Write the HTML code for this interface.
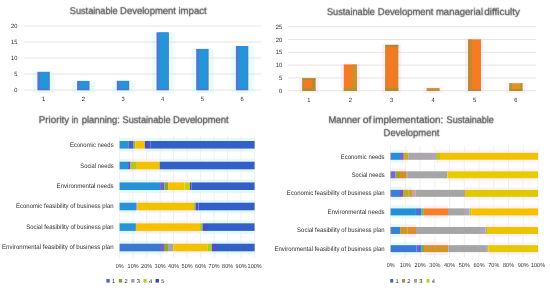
<!DOCTYPE html>
<html><head><meta charset="utf-8"><style>
html,body{margin:0;padding:0;background:#fff;}
body{width:550px;height:288px;overflow:hidden;}
svg{display:block;font-family:"Liberation Sans", sans-serif;}
</style></head><body>
<svg width="550" height="288" viewBox="0 0 550 288" xmlns="http://www.w3.org/2000/svg">
<defs><filter id="b" x="0" y="0" width="100%" height="100%"><feGaussianBlur stdDeviation="0.35"/></filter>
<filter id="s" x="-5%" y="-20%" width="110%" height="140%"><feConvolveMatrix order="3" kernelMatrix="1 2 1 2 24 2 1 2 1" preserveAlpha="false"/></filter>
<filter id="s2" x="-5%" y="-20%" width="110%" height="140%"><feConvolveMatrix order="3" kernelMatrix="0 0 0 0 1 0 0 0 0" preserveAlpha="false"/></filter></defs>
<rect width="550" height="288" fill="#fff"/>
<g filter="url(#b)">
<rect width="550" height="288" fill="#fff"/>
<rect x="32.90" y="71.80" width="22.40" height="21.50" fill="#eafcfc" />
<rect x="72.60" y="80.90" width="22.40" height="12.40" fill="#eafcfc" />
<rect x="112.30" y="80.80" width="22.40" height="12.50" fill="#eafcfc" />
<rect x="152.00" y="32.30" width="22.40" height="61.00" fill="#eafcfc" />
<rect x="191.70" y="48.90" width="22.40" height="44.40" fill="#eafcfc" />
<rect x="231.40" y="46.00" width="22.40" height="47.30" fill="#eafcfc" />
<line x1="23.60" y1="90.00" x2="261.00" y2="90.00" stroke="#dcdcdc" stroke-width="0.75"/>
<line x1="23.60" y1="74.00" x2="261.00" y2="74.00" stroke="#dcdcdc" stroke-width="0.75"/>
<line x1="23.60" y1="58.00" x2="261.00" y2="58.00" stroke="#dcdcdc" stroke-width="0.75"/>
<line x1="23.60" y1="42.00" x2="261.00" y2="42.00" stroke="#dcdcdc" stroke-width="0.75"/>
<line x1="23.60" y1="26.00" x2="261.00" y2="26.00" stroke="#dcdcdc" stroke-width="0.75"/>
<rect x="37.40" y="71.80" width="12.40" height="18.50" fill="#5474d2" />
<rect x="40.00" y="72.10" width="8.80" height="16.50" fill="#2296d8" />
<rect x="77.10" y="80.90" width="12.40" height="9.40" fill="#5474d2" />
<rect x="79.70" y="81.20" width="8.80" height="7.40" fill="#2296d8" />
<rect x="116.80" y="80.80" width="12.40" height="9.50" fill="#5474d2" />
<rect x="119.40" y="81.10" width="8.80" height="7.50" fill="#2296d8" />
<rect x="156.50" y="32.30" width="12.40" height="58.00" fill="#5474d2" />
<rect x="159.10" y="32.60" width="8.80" height="56.00" fill="#2296d8" />
<rect x="196.20" y="48.90" width="12.40" height="41.40" fill="#5474d2" />
<rect x="198.80" y="49.20" width="8.80" height="39.40" fill="#2296d8" />
<rect x="235.90" y="46.00" width="12.40" height="44.30" fill="#5474d2" />
<rect x="238.50" y="46.30" width="8.80" height="42.30" fill="#2296d8" />
<rect x="299.30" y="77.30" width="19.20" height="15.90" fill="#fdf0fa" />
<rect x="340.70" y="63.70" width="19.20" height="29.50" fill="#fdf0fa" />
<rect x="382.10" y="43.90" width="19.20" height="49.30" fill="#fdf0fa" />
<rect x="423.50" y="87.10" width="19.20" height="6.10" fill="#fdf0fa" />
<rect x="464.90" y="38.60" width="19.20" height="54.60" fill="#fdf0fa" />
<rect x="506.30" y="82.40" width="19.20" height="10.80" fill="#fdf0fa" />
<line x1="288.00" y1="90.70" x2="536.00" y2="90.70" stroke="#dcdcdc" stroke-width="0.75"/>
<line x1="288.00" y1="77.90" x2="536.00" y2="77.90" stroke="#dcdcdc" stroke-width="0.75"/>
<line x1="288.00" y1="65.10" x2="536.00" y2="65.10" stroke="#dcdcdc" stroke-width="0.75"/>
<line x1="288.00" y1="52.30" x2="536.00" y2="52.30" stroke="#dcdcdc" stroke-width="0.75"/>
<line x1="288.00" y1="39.50" x2="536.00" y2="39.50" stroke="#dcdcdc" stroke-width="0.75"/>
<line x1="288.00" y1="26.70" x2="536.00" y2="26.70" stroke="#dcdcdc" stroke-width="0.75"/>
<rect x="302.40" y="78.30" width="13.00" height="12.70" fill="#f47a20" />
<rect x="302.40" y="78.30" width="1.20" height="12.70" fill="#a89030" />
<rect x="312.40" y="78.30" width="3.00" height="12.70" fill="#a89030" />
<rect x="302.40" y="78.30" width="13.00" height="1.50" fill="#a89030" />
<rect x="302.40" y="88.70" width="13.00" height="2.30" fill="#a89030" />
<rect x="343.80" y="64.70" width="13.00" height="26.30" fill="#f57c20" />
<rect x="351.80" y="64.70" width="5.00" height="26.30" fill="#d09028" />
<rect x="343.80" y="64.70" width="13.00" height="0.60" fill="#f06a30" />
<rect x="343.80" y="88.30" width="13.00" height="2.70" fill="#a89a2c" />
<rect x="385.20" y="44.90" width="13.00" height="46.10" fill="#f27a20" />
<rect x="385.20" y="44.90" width="0.50" height="46.10" fill="#a89030" />
<rect x="396.70" y="44.90" width="1.50" height="46.10" fill="#d08a2c" />
<rect x="385.20" y="44.90" width="13.00" height="2.00" fill="#a89030" />
<rect x="385.20" y="88.00" width="13.00" height="3.00" fill="#a89030" />
<rect x="426.60" y="88.10" width="13.00" height="2.90" fill="#c8902c" />
<rect x="468.00" y="39.60" width="13.00" height="51.40" fill="#f87a20" />
<rect x="468.00" y="39.60" width="4.00" height="51.40" fill="#c08a30" />
<rect x="480.50" y="39.60" width="0.50" height="51.40" fill="#d08a2c" />
<rect x="468.00" y="39.60" width="13.00" height="0.30" fill="#f06a30" />
<rect x="468.00" y="89.40" width="13.00" height="1.60" fill="#a89030" />
<rect x="509.40" y="83.40" width="13.00" height="7.60" fill="#e89020" />
<rect x="509.40" y="83.40" width="2.50" height="7.60" fill="#98a030" />
<rect x="520.40" y="83.40" width="2.00" height="7.60" fill="#98a030" />
<rect x="509.40" y="83.40" width="13.00" height="0.30" fill="#a89030" />
<rect x="509.40" y="89.00" width="13.00" height="2.00" fill="#b09028" />
<rect x="119.60" y="138.00" width="9.20" height="3.00" fill="#e4fafa" />
<rect x="119.60" y="148.60" width="9.20" height="3.00" fill="#e4fafa" />
<rect x="128.80" y="138.00" width="4.80" height="3.00" fill="#e4fafa" />
<rect x="128.80" y="148.60" width="4.80" height="3.00" fill="#e4fafa" />
<rect x="133.60" y="138.00" width="1.80" height="3.00" fill="#fdeef8" />
<rect x="133.60" y="148.60" width="1.80" height="3.00" fill="#fdeef8" />
<rect x="135.40" y="138.00" width="9.40" height="3.00" fill="#fff3f8" />
<rect x="135.40" y="148.60" width="9.40" height="3.00" fill="#fff3f8" />
<rect x="144.80" y="138.00" width="5.80" height="3.00" fill="#e4fafa" />
<rect x="144.80" y="148.60" width="5.80" height="3.00" fill="#e4fafa" />
<rect x="150.60" y="138.00" width="104.00" height="3.00" fill="#e4fafa" />
<rect x="150.60" y="148.60" width="104.00" height="3.00" fill="#e4fafa" />
<rect x="119.60" y="158.70" width="8.50" height="3.00" fill="#e4fafa" />
<rect x="119.60" y="169.30" width="8.50" height="3.00" fill="#e4fafa" />
<rect x="128.10" y="158.70" width="2.40" height="3.00" fill="#e4fafa" />
<rect x="128.10" y="169.30" width="2.40" height="3.00" fill="#e4fafa" />
<rect x="130.50" y="158.70" width="5.50" height="3.00" fill="#fdeef8" />
<rect x="130.50" y="169.30" width="5.50" height="3.00" fill="#fdeef8" />
<rect x="136.00" y="158.70" width="23.70" height="3.00" fill="#fff3f8" />
<rect x="136.00" y="169.30" width="23.70" height="3.00" fill="#fff3f8" />
<rect x="159.70" y="158.70" width="94.90" height="3.00" fill="#e4fafa" />
<rect x="159.70" y="169.30" width="94.90" height="3.00" fill="#e4fafa" />
<rect x="119.60" y="179.40" width="40.50" height="3.00" fill="#e4fafa" />
<rect x="119.60" y="190.00" width="40.50" height="3.00" fill="#e4fafa" />
<rect x="160.10" y="179.40" width="4.40" height="3.00" fill="#e4fafa" />
<rect x="160.10" y="190.00" width="4.40" height="3.00" fill="#e4fafa" />
<rect x="164.50" y="179.40" width="3.60" height="3.00" fill="#fdeef8" />
<rect x="164.50" y="190.00" width="3.60" height="3.00" fill="#fdeef8" />
<rect x="168.10" y="179.40" width="16.40" height="3.00" fill="#fff3f8" />
<rect x="168.10" y="190.00" width="16.40" height="3.00" fill="#fff3f8" />
<rect x="184.50" y="179.40" width="5.40" height="3.00" fill="#fff3f8" />
<rect x="184.50" y="190.00" width="5.40" height="3.00" fill="#fff3f8" />
<rect x="189.90" y="179.40" width="1.50" height="3.00" fill="#e4fafa" />
<rect x="189.90" y="190.00" width="1.50" height="3.00" fill="#e4fafa" />
<rect x="191.40" y="179.40" width="63.20" height="3.00" fill="#e4fafa" />
<rect x="191.40" y="190.00" width="63.20" height="3.00" fill="#e4fafa" />
<rect x="119.60" y="199.70" width="16.40" height="3.00" fill="#e4fafa" />
<rect x="119.60" y="210.30" width="16.40" height="3.00" fill="#e4fafa" />
<rect x="137.60" y="199.70" width="55.60" height="3.00" fill="#fff3f8" />
<rect x="137.60" y="210.30" width="55.60" height="3.00" fill="#fff3f8" />
<rect x="193.20" y="199.70" width="2.30" height="3.00" fill="#fdeef8" />
<rect x="193.20" y="210.30" width="2.30" height="3.00" fill="#fdeef8" />
<rect x="195.50" y="199.70" width="3.00" height="3.00" fill="#e4fafa" />
<rect x="195.50" y="210.30" width="3.00" height="3.00" fill="#e4fafa" />
<rect x="198.50" y="199.70" width="56.10" height="3.00" fill="#e4fafa" />
<rect x="198.50" y="210.30" width="56.10" height="3.00" fill="#e4fafa" />
<rect x="119.60" y="220.30" width="16.30" height="3.00" fill="#e4fafa" />
<rect x="119.60" y="230.90" width="16.30" height="3.00" fill="#e4fafa" />
<rect x="135.90" y="220.30" width="64.20" height="3.00" fill="#fff3f8" />
<rect x="135.90" y="230.90" width="64.20" height="3.00" fill="#fff3f8" />
<rect x="200.10" y="220.30" width="2.40" height="3.00" fill="#fdeef8" />
<rect x="200.10" y="230.90" width="2.40" height="3.00" fill="#fdeef8" />
<rect x="202.50" y="220.30" width="5.50" height="3.00" fill="#e4fafa" />
<rect x="202.50" y="230.90" width="5.50" height="3.00" fill="#e4fafa" />
<rect x="208.00" y="220.30" width="46.60" height="3.00" fill="#e4fafa" />
<rect x="208.00" y="230.90" width="46.60" height="3.00" fill="#e4fafa" />
<rect x="119.60" y="240.70" width="40.40" height="3.00" fill="#e4fafa" />
<rect x="119.60" y="251.30" width="40.40" height="3.00" fill="#e4fafa" />
<rect x="160.00" y="240.70" width="4.00" height="3.00" fill="#e4fafa" />
<rect x="160.00" y="251.30" width="4.00" height="3.00" fill="#e4fafa" />
<rect x="164.00" y="240.70" width="4.00" height="3.00" fill="#fdeef8" />
<rect x="164.00" y="251.30" width="4.00" height="3.00" fill="#fdeef8" />
<rect x="173.50" y="240.70" width="34.30" height="3.00" fill="#fff3f8" />
<rect x="173.50" y="251.30" width="34.30" height="3.00" fill="#fff3f8" />
<rect x="207.80" y="240.70" width="4.10" height="3.00" fill="#fdeef8" />
<rect x="207.80" y="251.30" width="4.10" height="3.00" fill="#fdeef8" />
<rect x="211.90" y="240.70" width="4.10" height="3.00" fill="#e4fafa" />
<rect x="211.90" y="251.30" width="4.10" height="3.00" fill="#e4fafa" />
<rect x="216.00" y="240.70" width="38.60" height="3.00" fill="#e4fafa" />
<rect x="216.00" y="251.30" width="38.60" height="3.00" fill="#e4fafa" />
<line x1="119.60" y1="136.00" x2="119.60" y2="258.00" stroke="#ebebeb" stroke-width="0.75"/>
<line x1="133.10" y1="136.00" x2="133.10" y2="258.00" stroke="#ebebeb" stroke-width="0.75"/>
<line x1="146.60" y1="136.00" x2="146.60" y2="258.00" stroke="#ebebeb" stroke-width="0.75"/>
<line x1="160.10" y1="136.00" x2="160.10" y2="258.00" stroke="#ebebeb" stroke-width="0.75"/>
<line x1="173.60" y1="136.00" x2="173.60" y2="258.00" stroke="#ebebeb" stroke-width="0.75"/>
<line x1="187.10" y1="136.00" x2="187.10" y2="258.00" stroke="#ebebeb" stroke-width="0.75"/>
<line x1="200.60" y1="136.00" x2="200.60" y2="258.00" stroke="#ebebeb" stroke-width="0.75"/>
<line x1="214.10" y1="136.00" x2="214.10" y2="258.00" stroke="#ebebeb" stroke-width="0.75"/>
<line x1="227.60" y1="136.00" x2="227.60" y2="258.00" stroke="#ebebeb" stroke-width="0.75"/>
<line x1="241.10" y1="136.00" x2="241.10" y2="258.00" stroke="#ebebeb" stroke-width="0.75"/>
<line x1="254.60" y1="136.00" x2="254.60" y2="258.00" stroke="#ebebeb" stroke-width="0.75"/>
<rect x="119.60" y="141.00" width="9.20" height="7.60" fill="#2592d8" />
<rect x="128.80" y="141.00" width="4.80" height="7.60" fill="#4a60c8" />
<rect x="133.60" y="141.00" width="1.80" height="7.60" fill="#90b830" />
<rect x="135.40" y="141.00" width="9.40" height="7.60" fill="#f2c200" />
<rect x="144.80" y="141.00" width="5.80" height="7.60" fill="#4a50c8" />
<rect x="150.60" y="141.00" width="104.00" height="7.60" fill="#3060c8" />
<rect x="119.60" y="161.70" width="8.50" height="7.60" fill="#2592d8" />
<rect x="128.10" y="161.70" width="2.40" height="7.60" fill="#6a50c8" />
<rect x="130.50" y="161.70" width="5.50" height="7.60" fill="#a8c820" />
<rect x="136.00" y="161.70" width="23.70" height="7.60" fill="#f2c200" />
<rect x="159.70" y="161.70" width="94.90" height="7.60" fill="#3060c8" />
<rect x="119.60" y="182.40" width="40.50" height="7.60" fill="#2592d8" />
<rect x="160.10" y="182.40" width="4.40" height="7.60" fill="#7060c8" />
<rect x="164.50" y="182.40" width="3.60" height="7.60" fill="#80a830" />
<rect x="168.10" y="182.40" width="16.40" height="7.60" fill="#f2c200" />
<rect x="184.50" y="182.40" width="5.40" height="7.60" fill="#c8d010" />
<rect x="189.90" y="182.40" width="1.50" height="7.60" fill="#5a4ad0" />
<rect x="191.40" y="182.40" width="63.20" height="7.60" fill="#3060c8" />
<rect x="119.60" y="202.70" width="16.40" height="7.60" fill="#2592d8" />
<rect x="136.00" y="202.70" width="1.60" height="7.60" fill="#b0a0a8" />
<rect x="137.60" y="202.70" width="55.60" height="7.60" fill="#f2c200" />
<rect x="193.20" y="202.70" width="2.30" height="7.60" fill="#a0c820" />
<rect x="195.50" y="202.70" width="3.00" height="7.60" fill="#5a4ad0" />
<rect x="198.50" y="202.70" width="56.10" height="7.60" fill="#3060c8" />
<rect x="119.60" y="223.30" width="16.30" height="7.60" fill="#2592d8" />
<rect x="135.90" y="223.30" width="64.20" height="7.60" fill="#f8c000" />
<rect x="200.10" y="223.30" width="2.40" height="7.60" fill="#90d020" />
<rect x="202.50" y="223.30" width="5.50" height="7.60" fill="#4a50c8" />
<rect x="208.00" y="223.30" width="46.60" height="7.60" fill="#3060c8" />
<rect x="119.60" y="243.70" width="40.40" height="7.60" fill="#3a78d2" />
<rect x="160.00" y="243.70" width="4.00" height="7.60" fill="#7060c8" />
<rect x="164.00" y="243.70" width="4.00" height="7.60" fill="#80a830" />
<rect x="168.00" y="243.70" width="5.50" height="7.60" fill="#b0a0a8" />
<rect x="173.50" y="243.70" width="34.30" height="7.60" fill="#f2c200" />
<rect x="207.80" y="243.70" width="4.10" height="7.60" fill="#a0d020" />
<rect x="211.90" y="243.70" width="4.10" height="7.60" fill="#5a4ad0" />
<rect x="216.00" y="243.70" width="38.60" height="7.60" fill="#3060c8" />
<rect x="106.40" y="279.00" width="3.30" height="3.60" fill="#5060c0" />
<rect x="118.80" y="279.00" width="3.30" height="3.60" fill="#909838" />
<rect x="131.20" y="279.00" width="3.30" height="3.60" fill="#a0a0a0" />
<rect x="143.40" y="279.00" width="3.30" height="3.60" fill="#c0c830" />
<rect x="155.60" y="279.00" width="3.30" height="3.60" fill="#3048b0" />
<rect x="390.60" y="149.80" width="1.20" height="3.00" fill="#e4fafa" />
<rect x="390.60" y="159.80" width="1.20" height="3.00" fill="#e4fafa" />
<rect x="391.80" y="149.80" width="8.20" height="3.00" fill="#e4fafa" />
<rect x="391.80" y="159.80" width="8.20" height="3.00" fill="#e4fafa" />
<rect x="400.00" y="149.80" width="3.80" height="3.00" fill="#e4fafa" />
<rect x="400.00" y="159.80" width="3.80" height="3.00" fill="#e4fafa" />
<rect x="403.80" y="149.80" width="4.40" height="3.00" fill="#fff3f8" />
<rect x="403.80" y="159.80" width="4.40" height="3.00" fill="#fff3f8" />
<rect x="436.00" y="149.80" width="4.00" height="3.00" fill="#fff3f8" />
<rect x="436.00" y="159.80" width="4.00" height="3.00" fill="#fff3f8" />
<rect x="440.00" y="149.80" width="98.00" height="3.00" fill="#fff3f8" />
<rect x="440.00" y="159.80" width="98.00" height="3.00" fill="#fff3f8" />
<rect x="390.60" y="168.30" width="1.20" height="3.00" fill="#e4fafa" />
<rect x="390.60" y="178.30" width="1.20" height="3.00" fill="#e4fafa" />
<rect x="391.80" y="168.30" width="3.80" height="3.00" fill="#e4fafa" />
<rect x="391.80" y="178.30" width="3.80" height="3.00" fill="#e4fafa" />
<rect x="395.60" y="168.30" width="4.40" height="3.00" fill="#fdeef8" />
<rect x="395.60" y="178.30" width="4.40" height="3.00" fill="#fdeef8" />
<rect x="400.00" y="168.30" width="6.00" height="3.00" fill="#fdeef8" />
<rect x="400.00" y="178.30" width="6.00" height="3.00" fill="#fdeef8" />
<rect x="447.50" y="168.30" width="90.50" height="3.00" fill="#fff3f8" />
<rect x="447.50" y="178.30" width="90.50" height="3.00" fill="#fff3f8" />
<rect x="390.60" y="186.85" width="1.20" height="3.00" fill="#e4fafa" />
<rect x="390.60" y="196.85" width="1.20" height="3.00" fill="#e4fafa" />
<rect x="391.80" y="186.85" width="8.20" height="3.00" fill="#e4fafa" />
<rect x="391.80" y="196.85" width="8.20" height="3.00" fill="#e4fafa" />
<rect x="400.00" y="186.85" width="3.00" height="3.00" fill="#e4fafa" />
<rect x="400.00" y="196.85" width="3.00" height="3.00" fill="#e4fafa" />
<rect x="403.00" y="186.85" width="5.20" height="3.00" fill="#fdeef8" />
<rect x="403.00" y="196.85" width="5.20" height="3.00" fill="#fdeef8" />
<rect x="408.20" y="186.85" width="3.80" height="3.00" fill="#fdeef8" />
<rect x="408.20" y="196.85" width="3.80" height="3.00" fill="#fdeef8" />
<rect x="465.00" y="186.85" width="73.00" height="3.00" fill="#fff3f8" />
<rect x="465.00" y="196.85" width="73.00" height="3.00" fill="#fff3f8" />
<rect x="390.60" y="205.40" width="25.30" height="3.00" fill="#e4fafa" />
<rect x="390.60" y="215.40" width="25.30" height="3.00" fill="#e4fafa" />
<rect x="415.90" y="205.40" width="5.70" height="3.00" fill="#e4fafa" />
<rect x="415.90" y="215.40" width="5.70" height="3.00" fill="#e4fafa" />
<rect x="423.80" y="205.40" width="24.20" height="3.00" fill="#fdeef8" />
<rect x="423.80" y="215.40" width="24.20" height="3.00" fill="#fdeef8" />
<rect x="469.50" y="205.40" width="2.10" height="3.00" fill="#fdeef8" />
<rect x="469.50" y="215.40" width="2.10" height="3.00" fill="#fdeef8" />
<rect x="471.60" y="205.40" width="66.40" height="3.00" fill="#fff3f8" />
<rect x="471.60" y="215.40" width="66.40" height="3.00" fill="#fff3f8" />
<rect x="390.60" y="223.95" width="1.20" height="3.00" fill="#e4fafa" />
<rect x="390.60" y="233.95" width="1.20" height="3.00" fill="#e4fafa" />
<rect x="391.80" y="223.95" width="8.30" height="3.00" fill="#e4fafa" />
<rect x="391.80" y="233.95" width="8.30" height="3.00" fill="#e4fafa" />
<rect x="400.10" y="223.95" width="7.60" height="3.00" fill="#fdeef8" />
<rect x="400.10" y="233.95" width="7.60" height="3.00" fill="#fdeef8" />
<rect x="407.70" y="223.95" width="8.30" height="3.00" fill="#fdeef8" />
<rect x="407.70" y="233.95" width="8.30" height="3.00" fill="#fdeef8" />
<rect x="485.60" y="223.95" width="2.20" height="3.00" fill="#fdeef8" />
<rect x="485.60" y="233.95" width="2.20" height="3.00" fill="#fdeef8" />
<rect x="487.80" y="223.95" width="50.20" height="3.00" fill="#fff3f8" />
<rect x="487.80" y="233.95" width="50.20" height="3.00" fill="#fff3f8" />
<rect x="390.60" y="242.15" width="25.80" height="3.00" fill="#e4fafa" />
<rect x="390.60" y="252.15" width="25.80" height="3.00" fill="#e4fafa" />
<rect x="416.40" y="242.15" width="5.30" height="3.00" fill="#e4fafa" />
<rect x="416.40" y="252.15" width="5.30" height="3.00" fill="#e4fafa" />
<rect x="424.00" y="242.15" width="24.30" height="3.00" fill="#fdeef8" />
<rect x="424.00" y="252.15" width="24.30" height="3.00" fill="#fdeef8" />
<rect x="488.30" y="242.15" width="49.70" height="3.00" fill="#fff3f8" />
<rect x="488.30" y="252.15" width="49.70" height="3.00" fill="#fff3f8" />
<line x1="390.60" y1="146.00" x2="390.60" y2="258.00" stroke="#ebebeb" stroke-width="0.75"/>
<line x1="405.34" y1="146.00" x2="405.34" y2="258.00" stroke="#ebebeb" stroke-width="0.75"/>
<line x1="420.08" y1="146.00" x2="420.08" y2="258.00" stroke="#ebebeb" stroke-width="0.75"/>
<line x1="434.82" y1="146.00" x2="434.82" y2="258.00" stroke="#ebebeb" stroke-width="0.75"/>
<line x1="449.56" y1="146.00" x2="449.56" y2="258.00" stroke="#ebebeb" stroke-width="0.75"/>
<line x1="464.30" y1="146.00" x2="464.30" y2="258.00" stroke="#ebebeb" stroke-width="0.75"/>
<line x1="479.04" y1="146.00" x2="479.04" y2="258.00" stroke="#ebebeb" stroke-width="0.75"/>
<line x1="493.78" y1="146.00" x2="493.78" y2="258.00" stroke="#ebebeb" stroke-width="0.75"/>
<line x1="508.52" y1="146.00" x2="508.52" y2="258.00" stroke="#ebebeb" stroke-width="0.75"/>
<line x1="523.26" y1="146.00" x2="523.26" y2="258.00" stroke="#ebebeb" stroke-width="0.75"/>
<line x1="538.00" y1="146.00" x2="538.00" y2="258.00" stroke="#ebebeb" stroke-width="0.75"/>
<rect x="390.60" y="152.80" width="1.20" height="7.00" fill="#4a50c0" />
<rect x="391.80" y="152.80" width="8.20" height="7.00" fill="#2090d8" />
<rect x="400.00" y="152.80" width="3.80" height="7.00" fill="#8060d0" />
<rect x="403.80" y="152.80" width="4.40" height="7.00" fill="#c0b020" />
<rect x="408.20" y="152.80" width="23.80" height="7.00" fill="#aaa6aa" />
<rect x="432.00" y="152.80" width="4.00" height="7.00" fill="#b8a0b8" />
<rect x="436.00" y="152.80" width="4.00" height="7.00" fill="#b8c820" />
<rect x="440.00" y="152.80" width="98.00" height="7.00" fill="#f2c200" />
<rect x="390.60" y="171.30" width="1.20" height="7.00" fill="#4a50c0" />
<rect x="391.80" y="171.30" width="3.80" height="7.00" fill="#8060e0" />
<rect x="395.60" y="171.30" width="4.40" height="7.00" fill="#98a820" />
<rect x="400.00" y="171.30" width="6.00" height="7.00" fill="#d09020" />
<rect x="406.00" y="171.30" width="1.90" height="7.00" fill="#c8a0a8" />
<rect x="407.90" y="171.30" width="39.60" height="7.00" fill="#a5a5a5" />
<rect x="447.50" y="171.30" width="90.50" height="7.00" fill="#e8cc00" />
<rect x="390.60" y="189.85" width="1.20" height="7.00" fill="#4a50c0" />
<rect x="391.80" y="189.85" width="8.20" height="7.00" fill="#3a80d4" />
<rect x="400.00" y="189.85" width="3.00" height="7.00" fill="#8050d0" />
<rect x="403.00" y="189.85" width="5.20" height="7.00" fill="#b0b020" />
<rect x="408.20" y="189.85" width="3.80" height="7.00" fill="#c8a030" />
<rect x="412.00" y="189.85" width="3.80" height="7.00" fill="#c8a0b0" />
<rect x="415.80" y="189.85" width="49.20" height="7.00" fill="#a5a5a5" />
<rect x="465.00" y="189.85" width="73.00" height="7.00" fill="#e0c800" />
<rect x="390.60" y="208.40" width="25.30" height="7.00" fill="#2090d8" />
<rect x="415.90" y="208.40" width="5.70" height="7.00" fill="#4a70d8" />
<rect x="421.60" y="208.40" width="2.20" height="7.00" fill="#60c040" />
<rect x="423.80" y="208.40" width="24.20" height="7.00" fill="#f87e2c" />
<rect x="448.00" y="208.40" width="16.00" height="7.00" fill="#a5a5a5" />
<rect x="464.00" y="208.40" width="5.50" height="7.00" fill="#b8a4b8" />
<rect x="469.50" y="208.40" width="2.10" height="7.00" fill="#b0c830" />
<rect x="471.60" y="208.40" width="66.40" height="7.00" fill="#f8be00" />
<rect x="390.60" y="226.95" width="1.20" height="7.00" fill="#4a50c0" />
<rect x="391.80" y="226.95" width="8.30" height="7.00" fill="#3580d8" />
<rect x="400.10" y="226.95" width="7.60" height="7.00" fill="#c89a24" />
<rect x="407.70" y="226.95" width="8.30" height="7.00" fill="#e08c2c" />
<rect x="416.00" y="226.95" width="64.00" height="7.00" fill="#a5a5a5" />
<rect x="480.00" y="226.95" width="5.60" height="7.00" fill="#b0a0b8" />
<rect x="485.60" y="226.95" width="2.20" height="7.00" fill="#a8c030" />
<rect x="487.80" y="226.95" width="50.20" height="7.00" fill="#eac400" />
<rect x="390.60" y="245.15" width="25.80" height="7.00" fill="#3a78d8" />
<rect x="416.40" y="245.15" width="5.30" height="7.00" fill="#5a6ad8" />
<rect x="421.70" y="245.15" width="2.30" height="7.00" fill="#70b040" />
<rect x="424.00" y="245.15" width="24.30" height="7.00" fill="#d49428" />
<rect x="448.30" y="245.15" width="37.80" height="7.00" fill="#a5a5a5" />
<rect x="486.10" y="245.15" width="2.20" height="7.00" fill="#b8a8b0" />
<rect x="488.30" y="245.15" width="49.70" height="7.00" fill="#e8c800" />
<rect x="390.20" y="279.00" width="3.00" height="3.60" fill="#5060c0" />
<rect x="402.00" y="279.00" width="3.00" height="3.60" fill="#a09040" />
<rect x="414.00" y="279.00" width="3.00" height="3.60" fill="#a0a0a0" />
<rect x="426.50" y="279.00" width="3.00" height="3.60" fill="#c0c830" />
<g filter="url(#s)">
<text transform="translate(69.80,14.20) scale(0.1) skewX(0.1)" font-size="98.00" text-anchor="start" fill="#444444" stroke="#4a4a4a" stroke-width="2.50" textLength="479.01" lengthAdjust="spacingAndGlyphs">Sustainable</text>
<text transform="translate(120.10,14.20) scale(0.1) skewX(0.1)" font-size="98.00" text-anchor="start" fill="#444444" stroke="#4a4a4a" stroke-width="2.50" textLength="558.98" lengthAdjust="spacingAndGlyphs">Development</text>
<text transform="translate(178.40,14.20) scale(0.1) skewX(0.1)" font-size="98.00" text-anchor="start" fill="#444444" stroke="#4a4a4a" stroke-width="2.50" textLength="283.98" lengthAdjust="spacingAndGlyphs">impact</text>
<text transform="translate(327.00,14.60) scale(0.1) skewX(0.1)" font-size="98.00" text-anchor="start" fill="#444444" stroke="#4a4a4a" stroke-width="2.50" textLength="479.01" lengthAdjust="spacingAndGlyphs">Sustainable</text>
<text transform="translate(377.80,14.60) scale(0.1) skewX(0.1)" font-size="98.00" text-anchor="start" fill="#444444" stroke="#4a4a4a" stroke-width="2.50" textLength="556.98" lengthAdjust="spacingAndGlyphs">Development</text>
<text transform="translate(435.90,14.60) scale(0.1) skewX(0.1)" font-size="98.00" text-anchor="start" fill="#444444" stroke="#4a4a4a" stroke-width="2.50" textLength="471.02" lengthAdjust="spacingAndGlyphs">managerial</text>
<text transform="translate(484.20,14.60) scale(0.1) skewX(0.1)" font-size="98.00" text-anchor="start" fill="#444444" stroke="#4a4a4a" stroke-width="2.50" textLength="359.00" lengthAdjust="spacingAndGlyphs">difficulty</text>
<text transform="translate(38.70,123.40) scale(0.1) skewX(0.1)" font-size="98.00" text-anchor="start" fill="#444444" stroke="#4a4a4a" stroke-width="2.50" textLength="305.00" lengthAdjust="spacingAndGlyphs">Priority</text>
<text transform="translate(71.70,123.40) scale(0.1) skewX(0.1)" font-size="98.00" text-anchor="start" fill="#444444" stroke="#4a4a4a" stroke-width="2.50" textLength="66.01" lengthAdjust="spacingAndGlyphs">in</text>
<text transform="translate(81.70,123.40) scale(0.1) skewX(0.1)" font-size="98.00" text-anchor="start" fill="#444444" stroke="#4a4a4a" stroke-width="2.50" textLength="382.98" lengthAdjust="spacingAndGlyphs">planning:</text>
<text transform="translate(122.50,123.40) scale(0.1) skewX(0.1)" font-size="98.00" text-anchor="start" fill="#444444" stroke="#4a4a4a" stroke-width="2.50" textLength="481.01" lengthAdjust="spacingAndGlyphs">Sustainable</text>
<text transform="translate(173.10,123.40) scale(0.1) skewX(0.1)" font-size="98.00" text-anchor="start" fill="#444444" stroke="#4a4a4a" stroke-width="2.50" textLength="555.98" lengthAdjust="spacingAndGlyphs">Development</text>
<text transform="translate(328.50,123.10) scale(0.1) skewX(0.1)" font-size="98.00" text-anchor="start" fill="#444444" stroke="#4a4a4a" stroke-width="2.50" textLength="320.00" lengthAdjust="spacingAndGlyphs">Manner</text>
<text transform="translate(362.80,123.10) scale(0.1) skewX(0.1)" font-size="98.00" text-anchor="start" fill="#444444" stroke="#4a4a4a" stroke-width="2.50" textLength="86.77" lengthAdjust="spacingAndGlyphs">of</text>
<text transform="translate(373.10,123.10) scale(0.1) skewX(0.1)" font-size="98.00" text-anchor="start" fill="#444444" stroke="#4a4a4a" stroke-width="2.50" textLength="700.98" lengthAdjust="spacingAndGlyphs">implementation:</text>
<text transform="translate(446.60,123.10) scale(0.1) skewX(0.1)" font-size="98.00" text-anchor="start" fill="#444444" stroke="#4a4a4a" stroke-width="2.50" textLength="473.01" lengthAdjust="spacingAndGlyphs">Sustainable</text>
<text transform="translate(383.60,135.80) scale(0.1) skewX(0.1)" font-size="98.00" text-anchor="start" fill="#444444" stroke="#4a4a4a" stroke-width="2.50" textLength="556.98" lengthAdjust="spacingAndGlyphs">Development</text>
</g>
<g filter="url(#s2)">
<text transform="translate(17.40,92.30) scale(0.1) skewX(0.1)" font-size="61.00" text-anchor="end" fill="#2e2e2e"  textLength="31.70" lengthAdjust="spacingAndGlyphs">0</text>
<text transform="translate(17.40,76.30) scale(0.1) skewX(0.1)" font-size="61.00" text-anchor="end" fill="#2e2e2e"  textLength="31.70" lengthAdjust="spacingAndGlyphs">5</text>
<text transform="translate(17.40,60.30) scale(0.1) skewX(0.1)" font-size="61.00" text-anchor="end" fill="#2e2e2e"  textLength="63.40" lengthAdjust="spacingAndGlyphs">10</text>
<text transform="translate(17.40,44.30) scale(0.1) skewX(0.1)" font-size="61.00" text-anchor="end" fill="#2e2e2e"  textLength="63.40" lengthAdjust="spacingAndGlyphs">15</text>
<text transform="translate(17.40,28.30) scale(0.1) skewX(0.1)" font-size="61.00" text-anchor="end" fill="#2e2e2e"  textLength="63.40" lengthAdjust="spacingAndGlyphs">20</text>
<text transform="translate(43.60,101.10) scale(0.1) skewX(0.1)" font-size="61.00" text-anchor="middle" fill="#2e2e2e"  textLength="32.26" lengthAdjust="spacingAndGlyphs">1</text>
<text transform="translate(83.30,101.10) scale(0.1) skewX(0.1)" font-size="61.00" text-anchor="middle" fill="#2e2e2e"  textLength="32.26" lengthAdjust="spacingAndGlyphs">2</text>
<text transform="translate(123.00,101.10) scale(0.1) skewX(0.1)" font-size="61.00" text-anchor="middle" fill="#2e2e2e"  textLength="32.26" lengthAdjust="spacingAndGlyphs">3</text>
<text transform="translate(162.70,101.10) scale(0.1) skewX(0.1)" font-size="61.00" text-anchor="middle" fill="#2e2e2e"  textLength="32.26" lengthAdjust="spacingAndGlyphs">4</text>
<text transform="translate(202.40,101.10) scale(0.1) skewX(0.1)" font-size="61.00" text-anchor="middle" fill="#2e2e2e"  textLength="32.26" lengthAdjust="spacingAndGlyphs">5</text>
<text transform="translate(242.10,101.10) scale(0.1) skewX(0.1)" font-size="61.00" text-anchor="middle" fill="#2e2e2e"  textLength="32.26" lengthAdjust="spacingAndGlyphs">6</text>
<text transform="translate(282.30,92.70) scale(0.1) skewX(0.1)" font-size="61.00" text-anchor="end" fill="#2e2e2e"  textLength="32.26" lengthAdjust="spacingAndGlyphs">0</text>
<text transform="translate(282.30,79.90) scale(0.1) skewX(0.1)" font-size="61.00" text-anchor="end" fill="#2e2e2e"  textLength="32.26" lengthAdjust="spacingAndGlyphs">5</text>
<text transform="translate(282.30,67.10) scale(0.1) skewX(0.1)" font-size="61.00" text-anchor="end" fill="#2e2e2e"  textLength="64.51" lengthAdjust="spacingAndGlyphs">10</text>
<text transform="translate(282.30,54.30) scale(0.1) skewX(0.1)" font-size="61.00" text-anchor="end" fill="#2e2e2e"  textLength="64.51" lengthAdjust="spacingAndGlyphs">15</text>
<text transform="translate(282.30,41.50) scale(0.1) skewX(0.1)" font-size="61.00" text-anchor="end" fill="#2e2e2e"  textLength="64.51" lengthAdjust="spacingAndGlyphs">20</text>
<text transform="translate(282.30,28.70) scale(0.1) skewX(0.1)" font-size="61.00" text-anchor="end" fill="#2e2e2e"  textLength="64.51" lengthAdjust="spacingAndGlyphs">25</text>
<text transform="translate(308.90,101.80) scale(0.1) skewX(0.1)" font-size="61.00" text-anchor="middle" fill="#2e2e2e"  textLength="32.26" lengthAdjust="spacingAndGlyphs">1</text>
<text transform="translate(350.30,101.80) scale(0.1) skewX(0.1)" font-size="61.00" text-anchor="middle" fill="#2e2e2e"  textLength="32.26" lengthAdjust="spacingAndGlyphs">2</text>
<text transform="translate(391.70,101.80) scale(0.1) skewX(0.1)" font-size="61.00" text-anchor="middle" fill="#2e2e2e"  textLength="32.26" lengthAdjust="spacingAndGlyphs">3</text>
<text transform="translate(433.10,101.80) scale(0.1) skewX(0.1)" font-size="61.00" text-anchor="middle" fill="#2e2e2e"  textLength="32.26" lengthAdjust="spacingAndGlyphs">4</text>
<text transform="translate(474.50,101.80) scale(0.1) skewX(0.1)" font-size="61.00" text-anchor="middle" fill="#2e2e2e"  textLength="32.26" lengthAdjust="spacingAndGlyphs">5</text>
<text transform="translate(515.90,101.80) scale(0.1) skewX(0.1)" font-size="61.00" text-anchor="middle" fill="#2e2e2e"  textLength="32.26" lengthAdjust="spacingAndGlyphs">6</text>
<text transform="translate(119.60,267.70) scale(0.1) skewX(0.1)" font-size="59.00" text-anchor="middle" fill="#2e2e2e"  textLength="79.30" lengthAdjust="spacingAndGlyphs">0%</text>
<text transform="translate(133.10,267.70) scale(0.1) skewX(0.1)" font-size="59.00" text-anchor="middle" fill="#2e2e2e"  textLength="109.82" lengthAdjust="spacingAndGlyphs">10%</text>
<text transform="translate(146.60,267.70) scale(0.1) skewX(0.1)" font-size="59.00" text-anchor="middle" fill="#2e2e2e"  textLength="109.82" lengthAdjust="spacingAndGlyphs">20%</text>
<text transform="translate(160.10,267.70) scale(0.1) skewX(0.1)" font-size="59.00" text-anchor="middle" fill="#2e2e2e"  textLength="109.82" lengthAdjust="spacingAndGlyphs">30%</text>
<text transform="translate(173.60,267.70) scale(0.1) skewX(0.1)" font-size="59.00" text-anchor="middle" fill="#2e2e2e"  textLength="109.82" lengthAdjust="spacingAndGlyphs">40%</text>
<text transform="translate(187.10,267.70) scale(0.1) skewX(0.1)" font-size="59.00" text-anchor="middle" fill="#2e2e2e"  textLength="109.82" lengthAdjust="spacingAndGlyphs">50%</text>
<text transform="translate(200.60,267.70) scale(0.1) skewX(0.1)" font-size="59.00" text-anchor="middle" fill="#2e2e2e"  textLength="109.82" lengthAdjust="spacingAndGlyphs">60%</text>
<text transform="translate(214.10,267.70) scale(0.1) skewX(0.1)" font-size="59.00" text-anchor="middle" fill="#2e2e2e"  textLength="109.82" lengthAdjust="spacingAndGlyphs">70%</text>
<text transform="translate(227.60,267.70) scale(0.1) skewX(0.1)" font-size="59.00" text-anchor="middle" fill="#2e2e2e"  textLength="109.82" lengthAdjust="spacingAndGlyphs">80%</text>
<text transform="translate(241.10,267.70) scale(0.1) skewX(0.1)" font-size="59.00" text-anchor="middle" fill="#2e2e2e"  textLength="109.82" lengthAdjust="spacingAndGlyphs">90%</text>
<text transform="translate(254.60,267.70) scale(0.1) skewX(0.1)" font-size="59.00" text-anchor="middle" fill="#2e2e2e"  textLength="140.34" lengthAdjust="spacingAndGlyphs">100%</text>
<text transform="translate(69.90,147.00) scale(0.1) skewX(0.1)" font-size="65.00" text-anchor="start" fill="#2e2e2e"  textLength="437.00" lengthAdjust="spacingAndGlyphs">Economic needs</text>
<text transform="translate(80.30,167.50) scale(0.1) skewX(0.1)" font-size="65.00" text-anchor="start" fill="#2e2e2e"  textLength="333.00" lengthAdjust="spacingAndGlyphs">Social needs</text>
<text transform="translate(56.60,187.50) scale(0.1) skewX(0.1)" font-size="65.00" text-anchor="start" fill="#2e2e2e"  textLength="570.00" lengthAdjust="spacingAndGlyphs">Environmental needs</text>
<text transform="translate(16.00,208.20) scale(0.1) skewX(0.1)" font-size="65.00" text-anchor="start" fill="#2e2e2e"  textLength="976.01" lengthAdjust="spacingAndGlyphs">Economic feasibility of business plan</text>
<text transform="translate(26.20,229.30) scale(0.1) skewX(0.1)" font-size="65.00" text-anchor="start" fill="#2e2e2e"  textLength="874.01" lengthAdjust="spacingAndGlyphs">Social feasibility of business plan</text>
<text transform="translate(2.00,249.30) scale(0.1) skewX(0.1)" font-size="65.00" text-anchor="start" fill="#2e2e2e"  textLength="1116.01" lengthAdjust="spacingAndGlyphs">Environmental feasibility of business plan</text>
<text transform="translate(112.00,283.00) scale(0.1) skewX(0.1)" font-size="56.00" text-anchor="start" fill="#2e2e2e"  textLength="32.26" lengthAdjust="spacingAndGlyphs">1</text>
<text transform="translate(124.40,283.00) scale(0.1) skewX(0.1)" font-size="56.00" text-anchor="start" fill="#2e2e2e"  textLength="32.26" lengthAdjust="spacingAndGlyphs">2</text>
<text transform="translate(136.80,283.00) scale(0.1) skewX(0.1)" font-size="56.00" text-anchor="start" fill="#2e2e2e"  textLength="32.26" lengthAdjust="spacingAndGlyphs">3</text>
<text transform="translate(149.00,283.00) scale(0.1) skewX(0.1)" font-size="56.00" text-anchor="start" fill="#2e2e2e"  textLength="32.26" lengthAdjust="spacingAndGlyphs">4</text>
<text transform="translate(161.20,283.00) scale(0.1) skewX(0.1)" font-size="56.00" text-anchor="start" fill="#2e2e2e"  textLength="32.26" lengthAdjust="spacingAndGlyphs">5</text>
<text transform="translate(390.60,267.30) scale(0.1) skewX(0.1)" font-size="59.00" text-anchor="middle" fill="#2e2e2e"  textLength="79.30" lengthAdjust="spacingAndGlyphs">0%</text>
<text transform="translate(405.34,267.30) scale(0.1) skewX(0.1)" font-size="59.00" text-anchor="middle" fill="#2e2e2e"  textLength="109.82" lengthAdjust="spacingAndGlyphs">10%</text>
<text transform="translate(420.08,267.30) scale(0.1) skewX(0.1)" font-size="59.00" text-anchor="middle" fill="#2e2e2e"  textLength="109.82" lengthAdjust="spacingAndGlyphs">20%</text>
<text transform="translate(434.82,267.30) scale(0.1) skewX(0.1)" font-size="59.00" text-anchor="middle" fill="#2e2e2e"  textLength="109.82" lengthAdjust="spacingAndGlyphs">30%</text>
<text transform="translate(449.56,267.30) scale(0.1) skewX(0.1)" font-size="59.00" text-anchor="middle" fill="#2e2e2e"  textLength="109.82" lengthAdjust="spacingAndGlyphs">40%</text>
<text transform="translate(464.30,267.30) scale(0.1) skewX(0.1)" font-size="59.00" text-anchor="middle" fill="#2e2e2e"  textLength="109.82" lengthAdjust="spacingAndGlyphs">50%</text>
<text transform="translate(479.04,267.30) scale(0.1) skewX(0.1)" font-size="59.00" text-anchor="middle" fill="#2e2e2e"  textLength="109.82" lengthAdjust="spacingAndGlyphs">60%</text>
<text transform="translate(493.78,267.30) scale(0.1) skewX(0.1)" font-size="59.00" text-anchor="middle" fill="#2e2e2e"  textLength="109.82" lengthAdjust="spacingAndGlyphs">70%</text>
<text transform="translate(508.52,267.30) scale(0.1) skewX(0.1)" font-size="59.00" text-anchor="middle" fill="#2e2e2e"  textLength="109.82" lengthAdjust="spacingAndGlyphs">80%</text>
<text transform="translate(523.26,267.30) scale(0.1) skewX(0.1)" font-size="59.00" text-anchor="middle" fill="#2e2e2e"  textLength="109.82" lengthAdjust="spacingAndGlyphs">90%</text>
<text transform="translate(538.00,267.30) scale(0.1) skewX(0.1)" font-size="59.00" text-anchor="middle" fill="#2e2e2e"  textLength="140.34" lengthAdjust="spacingAndGlyphs">100%</text>
<text transform="translate(340.70,158.90) scale(0.1) skewX(0.1)" font-size="65.00" text-anchor="start" fill="#2e2e2e"  textLength="439.00" lengthAdjust="spacingAndGlyphs">Economic needs</text>
<text transform="translate(351.80,176.80) scale(0.1) skewX(0.1)" font-size="65.00" text-anchor="start" fill="#2e2e2e"  textLength="328.00" lengthAdjust="spacingAndGlyphs">Social needs</text>
<text transform="translate(286.80,195.40) scale(0.1) skewX(0.1)" font-size="65.00" text-anchor="start" fill="#2e2e2e"  textLength="978.01" lengthAdjust="spacingAndGlyphs">Economic feasibility of business plan</text>
<text transform="translate(327.60,213.80) scale(0.1) skewX(0.1)" font-size="65.00" text-anchor="start" fill="#2e2e2e"  textLength="570.00" lengthAdjust="spacingAndGlyphs">Environmental needs</text>
<text transform="translate(297.10,231.90) scale(0.1) skewX(0.1)" font-size="65.00" text-anchor="start" fill="#2e2e2e"  textLength="875.01" lengthAdjust="spacingAndGlyphs">Social feasibility of business plan</text>
<text transform="translate(274.50,250.90) scale(0.1) skewX(0.1)" font-size="65.00" text-anchor="start" fill="#2e2e2e"  textLength="1101.01" lengthAdjust="spacingAndGlyphs">Environmental feasibility of business plan</text>
<text transform="translate(395.40,283.00) scale(0.1) skewX(0.1)" font-size="56.00" text-anchor="start" fill="#2e2e2e"  textLength="32.26" lengthAdjust="spacingAndGlyphs">1</text>
<text transform="translate(407.20,283.00) scale(0.1) skewX(0.1)" font-size="56.00" text-anchor="start" fill="#2e2e2e"  textLength="32.26" lengthAdjust="spacingAndGlyphs">2</text>
<text transform="translate(419.20,283.00) scale(0.1) skewX(0.1)" font-size="56.00" text-anchor="start" fill="#2e2e2e"  textLength="32.26" lengthAdjust="spacingAndGlyphs">3</text>
<text transform="translate(431.70,283.00) scale(0.1) skewX(0.1)" font-size="56.00" text-anchor="start" fill="#2e2e2e"  textLength="32.26" lengthAdjust="spacingAndGlyphs">4</text>
</g>
</g>
</svg>
</body></html>
